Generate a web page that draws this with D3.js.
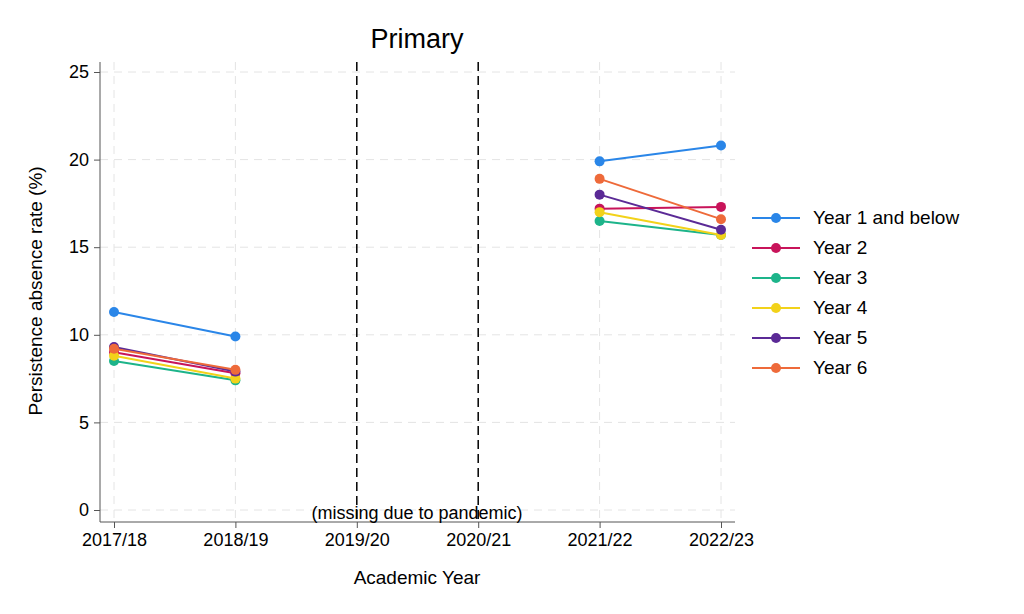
<!DOCTYPE html><html><head><meta charset="utf-8"><script src="https://cdn.jsdelivr.net/npm/d3@7"></script>
<style>body{margin:0;background:#fff}text{font-family:"Helvetica","Liberation Sans",Arial,sans-serif}</style></head><body><svg id="c" width="1024" height="614"></svg><script>
const years=["2017/18","2018/19","2019/20","2020/21","2021/22","2022/23"];
const seriesNames=["Year 1 and below","Year 2","Year 3","Year 4","Year 5","Year 6"];
const colors=["#2a86e8","#c8145a","#1db48a","#f2d21a","#5b2a96","#ee6a3a"];
const y1=[11.3,9.9,null,null,19.9,20.8];
const y2=[9.0,7.8,null,null,17.2,17.3];
const y3=[8.5,7.4,null,null,16.5,15.7];
const y4=[8.8,7.5,null,null,17.0,15.7];
const y5=[9.3,7.9,null,null,18.0,16.0];
const y6=[9.2,8.0,null,null,18.9,16.6];
const values=[y1,y2,y3,y4,y5,y6];
const yTicks=[0,5,10,15,20,25];
const svg=d3.select("#c");
const x=d3.scalePoint().domain(years).range([114,721]);
const y=d3.scaleLinear().domain([0,25]).range([510,72]);
const g=svg.append("g");
yTicks.forEach(t=>g.append("line").attr("x1",100).attr("x2",735).attr("y1",y(t)).attr("y2",y(t)).attr("stroke","#e4e4e4").attr("stroke-dasharray","8,6"));
years.forEach(yr=>{if(yr==="2019/20"||yr==="2020/21")return;g.append("line").attr("x1",x(yr)).attr("x2",x(yr)).attr("y1",62).attr("y2",522).attr("stroke","#e4e4e4").attr("stroke-dasharray","8,6");});
["2019/20","2020/21"].forEach(yr=>g.append("line").attr("x1",x(yr)).attr("x2",x(yr)).attr("y1",62).attr("y2",522).attr("stroke","#000").attr("stroke-width",1.5).attr("stroke-dasharray","9,5"));
const ya=svg.append("g").attr("transform","translate(100,0)").call(d3.axisLeft(y).tickValues(yTicks).tickSize(6).tickPadding(5));
ya.select(".domain").attr("d","M0,62V522");
const xa=svg.append("g").attr("transform","translate(0,522)").call(d3.axisBottom(x).tickSize(6).tickPadding(5));
xa.select(".domain").attr("d","M100,0H735");
svg.selectAll(".tick text").attr("font-size",18).attr("fill","#000").style("font-family","Helvetica,Liberation Sans,Arial");
svg.selectAll(".domain,.tick line").attr("stroke","#555");
const line=d3.line().defined(d=>d.v!=null).x(d=>x(d.yr)).y(d=>y(d.v));
values.forEach((vals,i)=>{
 const pts=vals.map((v,j)=>({yr:years[j],v}));
 g.append("path").attr("d",line(pts)).attr("fill","none").attr("stroke",colors[i]).attr("stroke-width",2);
 g.selectAll(null).data(pts.filter(p=>p.v!=null)).join("circle").attr("cx",p=>x(p.yr)).attr("cy",p=>y(p.v)).attr("r",5).attr("fill",colors[i]);
});
svg.append("text").attr("x",417).attr("y",519).attr("text-anchor","middle").attr("font-size",18).text("(missing due to pandemic)");
svg.append("text").attr("x",417).attr("y",48).attr("text-anchor","middle").attr("font-size",27).text("Primary");
svg.append("text").attr("x",417).attr("y",584).attr("text-anchor","middle").attr("font-size",19).text("Academic Year");
svg.append("text").attr("transform","translate(42,291) rotate(-90)").attr("text-anchor","middle").attr("font-size",19).text("Persistence absence rate (%)");
const lg=svg.append("g");
seriesNames.forEach((n,i)=>{const yy=218+i*30;
 lg.append("line").attr("x1",752).attr("x2",800).attr("y1",yy).attr("y2",yy).attr("stroke",colors[i]).attr("stroke-width",2);
 lg.append("circle").attr("cx",776).attr("cy",yy).attr("r",5).attr("fill",colors[i]);
 lg.append("text").attr("x",813).attr("y",yy+6).attr("font-size",19).text(n);});
</script></body></html>
